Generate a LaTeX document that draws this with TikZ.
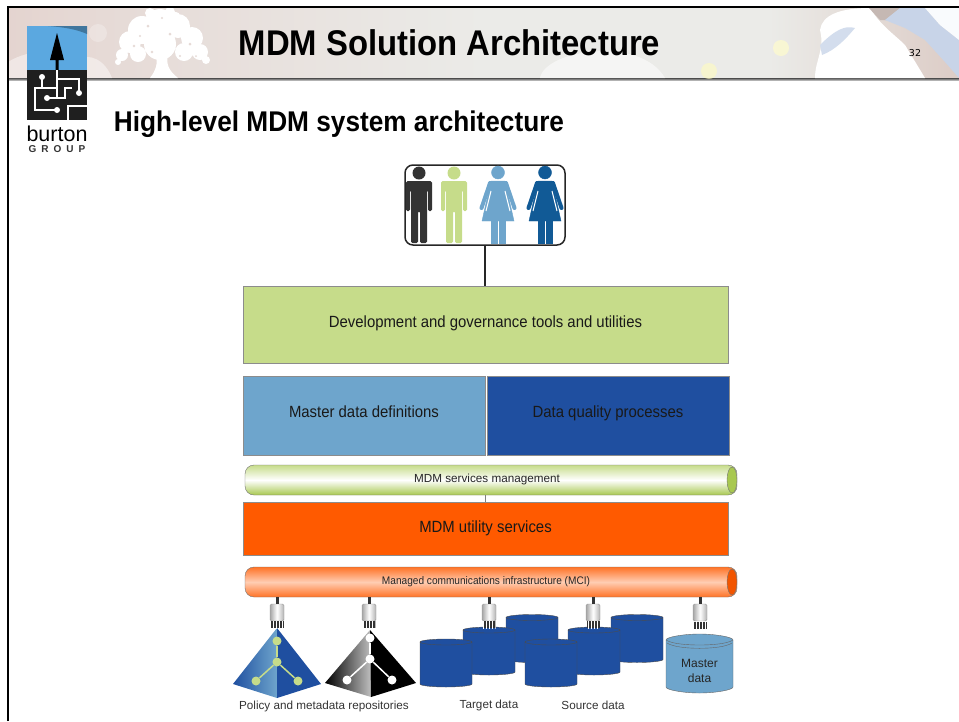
\documentclass[tikz,border=0pt]{standalone}
\usepackage{xcolor}
\usepackage{fontspec}
\setmainfont{Liberation Sans}
\newfontfamily\narrowfont[FakeStretch=0.92]{Liberation Sans}
\newfontfamily\pagefont{DejaVu Sans}
\usetikzlibrary{shapes.geometric,patterns}

\definecolor{toolgreen}{HTML}{C6DC8A}
\definecolor{capgreen}{HTML}{A8C850}
\definecolor{defblue}{HTML}{6EA5CC}
\definecolor{qualblue}{HTML}{1F4FA0}
\definecolor{utilorange}{HTML}{FF5A00}
\definecolor{womanblue}{HTML}{115A96}
\definecolor{logoblue}{HTML}{5BA8E0}
\definecolor{bandA}{HTML}{D8B8B0}
\definecolor{bandB}{HTML}{E0C8C2}
\definecolor{bandC}{HTML}{E6DAD6}
\definecolor{bandD}{HTML}{EBEBE8}
\definecolor{bandE}{HTML}{DCCCC6}
\definecolor{bandF}{HTML}{D6C6C0}
\definecolor{cloudblue}{HTML}{C8D4E8}

\pgfdeclarehorizontalshading{bandshade}{100bp}{
  color(0bp)=(bandA);
  color(15bp)=(bandB);
  color(30bp)=(bandC);
  color(50bp)=(bandD);
  color(65bp)=(bandD);
  color(75bp)=(bandE);
  color(85bp)=(bandF);
  color(100bp)=(bandD)}

\tikzset{
  layerbox/.style={rectangle, draw=black!45, inner sep=0pt, text=black!90, text height=12pt, font=\narrowfont\fontsize{16.2}{18}\selectfont},
  pipe/.style={rectangle, rounded corners=9pt, draw=black!55, minimum width=492pt, minimum height=30pt, inner sep=0pt},
  pipecap/.style={ellipse, draw=black!55, minimum width=10pt, minimum height=26pt, inner sep=0pt},
  plug/.style={rectangle, rounded corners=1.5pt, draw=black!40, left color=black!35, right color=black!30, middle color=white, minimum width=14pt, minimum height=17pt, inner sep=0pt},
  grip/.style={rectangle, preaction={fill=black!80}, pattern=vertical lines, pattern color=white!70, minimum width=13pt, minimum height=7pt, inner sep=0pt},
  stem/.style={line width=3pt, black!80},
  graphdot/.style={circle, inner sep=0pt, minimum size=9pt},
  caption/.style={inner sep=0pt, font=\fontsize{11.7}{14}\selectfont, text=black!80},
  dbdrum/.pic={
    \draw[fill=qualblue, draw=black!70] (-26,-21) -- (-26,21) .. controls (-26,22.6) and (-14.3,24) .. (0,24) .. controls (14.3,24) and (26,22.6) .. (26,21) -- (26,-21) .. controls (26,-22.6) and (14.3,-24) .. (0,-24) .. controls (-14.3,-24) and (-26,-22.6) .. (-26,-21) -- cycle;
    \draw[draw=black!70] (-26,-21) .. controls (-26,-19.4) and (-14.3,-18) .. (0,-18) .. controls (14.3,-18) and (26,-19.4) .. (26,-21);
  },
  man/.pic={
    \fill[pic actions] (0,8) circle (6.5);
    \fill[pic actions, rounded corners=1.5pt] (-13,16) -- (13,16) -- (13,46) -- (9,46) -- (9,25) -- (8,25) -- (8,78) -- (1,78) -- (1,46) -- (-1,46) -- (-1,78) -- (-8,78) -- (-8,25) -- (-9,25) -- (-9,46) -- (-13,46) -- cycle;
  },
  woman/.pic={
    \fill[pic actions] (0,7.5) circle (6.5);
    \fill[pic actions] (-7,16) -- (7,16) -- (16,56) -- (-16,56) -- cycle;
    \fill[pic actions] (-7,78) rectangle (-1,54);
    \fill[pic actions] (1,78) rectangle (7,54);
    \draw[line width=4pt, line cap=round, pic actions] (-8,18) -- (-16.5,43);
    \draw[line width=4pt, line cap=round, pic actions] (8,18) -- (16.5,43);
    \draw[white, line width=1pt] (-7,26) -- (-12,46);
    \draw[white, line width=1pt] (7,26) -- (12,46);
  }
}

\begin{document}
\begin{tikzpicture}[x=1pt, y=-1pt]
                \useasboundingbox (0,0) rectangle (959,721);

                % Header band
                \shade[shading=bandshade] (8,8) rectangle (959,78);
                \shade[top color=black!70, bottom color=black!30] (8,78) rectangle (959,80);
                \fill[white, opacity=.25] (98,33) circle (9);
                \fill[white!80!yellow, opacity=.7] (781,48) circle (8);
                \fill[white!75!yellow, opacity=.6] (709,71) circle (8);
                \fill[white, opacity=.45] (8,78) -- (8,62) .. controls (30,48) and (60,50) .. (75,60) .. controls (90,52) and (105,60) .. (112,78) -- cycle;
                \fill[white, opacity=.55] (540,78) .. controls (545,50) and (640,35) .. (665,78) -- cycle;

                % Clouds on the right
                \fill[white] (815,78) .. controls (815,60) and (825,50) .. (820,30) .. controls (822,15) and (840,8) .. (870,8) .. controls (880,25) and (895,35) .. (905,45) -- (925,78) -- cycle;
                \fill[bandF!80!gray] (869,8) -- (900,8) -- (895,20) -- (880,20) -- cycle;
                \fill[cloudblue] (885,20) -- (900,8) -- (925,8) -- (940,25) -- (959,40) -- (959,78) -- (945,62) -- (925,40) -- (905,28) -- cycle;
                \fill[white!90!cloudblue] (925,8) -- (959,8) -- (959,40) -- (940,25) -- cycle;
                \fill[cloudblue!80!white] (820,45) .. controls (835,30) and (845,25) .. (855,28) .. controls (845,40) and (835,50) .. (822,55) -- cycle;

                % Tree
                \fill[white] (150,78) .. controls (156,70) and (158,64) .. (156,54) -- (168,54) .. controls (166,64) and (168,70) .. (178,78) -- cycle;
                \fill[white] (160,24) circle (15) (142,30) circle (14) (178,26) circle (12) (192,38) circle (11) (130,42) circle (11) (160,44) circle (16) (200,52) circle (8) (184,52) circle (9) (122,55) circle (6) (138,54) circle (8) (170,12) circle (5) (150,13) circle (5) (118,62) circle (3) (206,60) circle (4) (176,16) circle (4);
                \fill[bandC] (148,26) circle (1.5) (170,34) circle (1.5) (134,46) circle (1.3) (190,44) circle (1.5) (180,56) circle (1.2) (152,52) circle (1.4) (162,18) circle (1.2) (196,56) circle (1) (140,36) circle (1.2);

                % Frame
                \draw[black, line width=2pt] (7.5,721) -- (7.5,6.5) -- (959,6.5);

                % Logo
                \fill[logoblue] (27,26) rectangle (87,71);
                \fill[logoblue!70!black] (48,26) .. controls (62,27) and (76,29) .. (87,34) -- (87,26) -- cycle;
                \fill[black!88] (27,70) rectangle (87,120);
                \fill[black] (57,33) -- (64,60) -- (58.5,60) -- (58.5,70) -- (55.5,70) -- (55.5,60) -- (50,60) -- cycle;
                \draw[white, line width=1.8pt] (42,77) -- (42,88) -- (57,88);
                \draw[white, line width=1.8pt] (79,93) -- (79,79) -- (57,79) -- (57,70);
                \draw[white, line width=1.8pt] (57,79) -- (57,98);
                \draw[white, line width=1.8pt] (47,98) -- (65,98) -- (65,88) -- (72,88);
                \draw[white, line width=1.8pt] (57,110) -- (35,110) -- (35,88) -- (42,88);
                \draw[white, line width=1.8pt] (87,106) -- (68,106) -- (68,120);
                \fill[white] (42,77) circle (3) (79,93) circle (3) (47,98) circle (3) (57,110) circle (3);
                \node[inner sep=0pt, font=\fontsize{21.5}{21.5}\selectfont] (logoname) at (57,134) {burton};
                \node[inner sep=0pt, font=\bfseries\fontsize{10}{10}\selectfont, text=black!80] (logogroup) at (57,149.5) {G\,\,\,R\,\,\,O\,\,\,U\,\,\,P};

                % Titles
                \node[inner sep=0pt, font=\narrowfont\bfseries\fontsize{35.7}{36}\selectfont] (title) at (449.5,43) {MDM Solution Architecture};
                \node[inner sep=0pt, font=\pagefont\fontsize{9.5}{10}\selectfont] (pagenum) at (915,53) {32};
                \node[inner sep=0pt, font=\narrowfont\bfseries\fontsize{28.5}{29}\selectfont] (subtitle) at (339,124) {High-level MDM system architecture};

                % People
                \node[rectangle, rounded corners=8pt, draw=black!85, line width=1.5pt, minimum width=160pt, minimum height=80pt, inner sep=0pt] (people) at (485,205) {};
                \pic[fill=black!80] (man1) at (419,165) {man};
                \pic[fill=toolgreen] (man2) at (454,165) {man};
                \pic[fill=defblue, draw=defblue] (woman1) at (498,165) {woman};
                \pic[fill=womanblue, draw=womanblue] (woman2) at (545,165) {woman};

                % Layers
                \node[layerbox, fill=toolgreen, minimum width=485pt, minimum height=77pt, text depth=7pt] (tools) at (485.5,324.5) {Development and governance tools and utilities};
                \node[layerbox, fill=defblue, minimum width=242pt, minimum height=79pt, text depth=8pt] (defs) at (364,415.5) {Master data definitions};
                \node[layerbox, fill=qualblue, minimum width=242pt, minimum height=79pt, text depth=8pt] (quality) at (608,415.5) {Data quality processes};
                \node[pipe, top color=toolgreen, bottom color=capgreen, middle color=white] (svcpipe) at (491,480) {};
                \node[pipecap, fill=capgreen] (svccap) at (732,480) {};
                \node[inner sep=0pt, text height=9pt, text depth=3pt, font=\fontsize{11.7}{14}\selectfont, text=black!85] (svclabel) at (487,479.5) {MDM services management};
                \node[layerbox, fill=utilorange, minimum width=485pt, minimum height=53pt, text depth=4pt] (utility) at (485.5,528.5) {MDM utility services};
                \node[pipe, top color=utilorange!85, bottom color=utilorange!85, middle color=utilorange!30!white] (mcipipe) at (491,582) {};
                \node[pipecap, fill=utilorange!95!black] (mcicap) at (732,582) {};
                \node[inner sep=0pt, text height=9pt, text depth=3pt, font=\narrowfont\fontsize{11}{13}\selectfont, text=black!85] (mcilabel) at (486,581.5) {Managed communications infrastructure (MCI)};

                % Connectors
                \draw[black!85, line width=2pt] (people) -- (people |- tools.north);
                \draw[black!50] (utility.north) -- (utility.north |- svcpipe.south);

                % Plugs
                \node[plug] (plug1) at (277,612.5) {};
                \node[plug] (plug2) at (369,612.5) {};
                \node[plug] (plug3) at (489,612.5) {};
                \node[plug] (plug4) at (593,612.5) {};
                \node[plug] (plug5) at (700,612.5) {};
                \draw[stem] (plug1.north) -- (plug1.north |- mcipipe.south);
                \draw[stem] (plug2.north) -- (plug2.north |- mcipipe.south);
                \draw[stem] (plug3.north) -- (plug3.north |- mcipipe.south);
                \draw[stem] (plug4.north) -- (plug4.north |- mcipipe.south);
                \draw[stem] (plug5.north) -- (plug5.north |- mcipipe.south);

                % Policy pyramid
                \shade[left color=qualblue, right color=defblue] (277,628) -- (233,684) -- (277,698) -- cycle;
                \fill[qualblue] (277,628) -- (321,684) -- (277,698) -- cycle;
                \node[graphdot, fill=toolgreen] (p1) at (277,641) {};
                \node[graphdot, fill=toolgreen] (p2) at (277,662) {};
                \node[graphdot, fill=toolgreen] (p3) at (256,681) {};
                \node[graphdot, fill=toolgreen] (p4) at (298,681) {};
                \draw[toolgreen, line width=1.5pt] (p1) -- (p2);
                \draw[toolgreen, line width=1.5pt] (p2) -- (p3);
                \draw[toolgreen, line width=1.5pt] (p2) -- (p4);

                % Metadata pyramid
                \shade[left color=black, right color=black!25] (370,630) -- (325,683) -- (371,697) -- cycle;
                \fill[black] (370,630) -- (416,683) -- (371,697) -- cycle;
                \node[graphdot, fill=white] (m1) at (370,638) {};
                \node[graphdot, fill=white] (m2) at (370,659) {};
                \node[graphdot, fill=white] (m3) at (347,680) {};
                \node[graphdot, fill=white] (m4) at (392,680) {};
                \draw[white, line width=1.5pt] (m1) -- (m2);
                \draw[white, line width=1.5pt] (m2) -- (m3);
                \draw[white, line width=1.5pt] (m2) -- (m4);

                % Databases
                \pic (src3) at (637,638.5) {dbdrum};
                \pic (tgt3) at (532,638.5) {dbdrum};
                \pic (src2) at (594,651) {dbdrum};
                \pic (tgt2) at (489,651) {dbdrum};
                \pic (tgt1) at (446,663) {dbdrum};
                \pic (src1) at (551,663) {dbdrum};

                % Master drum
                \draw[fill=defblue, draw=black!60] (666,640) -- (666,687) .. controls (666,690) and (684,693) .. (699.5,693) .. controls (715,693) and (733,690) .. (733,687) -- (733,640) .. controls (733,637) and (715,634) .. (699.5,634) .. controls (684,634) and (666,637) .. (666,640) -- cycle;
                \draw[black!60] (666,640) .. controls (672,644) and (688,645) .. (699.5,645) .. controls (711,645) and (727,644) .. (733,640);
                \draw[black!60] (667,643) .. controls (673,647) and (688,648.3) .. (699.5,648.3) .. controls (711,648.3) and (726,647) .. (732,643);
                \node[inner sep=0pt, align=center, font=\fontsize{12}{15.5}\selectfont, text=black!85] (masterlabel) at (699.5,671) {Master\\data};

                % Grips
                \node[grip] (grip1) at (277,624.5) {};
                \node[grip] (grip2) at (369,624.5) {};
                \node[grip] (grip3) at (489,624.5) {};
                \node[grip] (grip4) at (593,624.5) {};
                \node[grip] (grip5) at (700,625) {};

                % Captions
                \node[caption] (repolabel) at (324,706) {Policy and metadata repositories};
                \node[caption] (tgtlabel) at (489,705) {Target data};
                \node[caption] (srclabel) at (593,705) {Source data};
            \end{tikzpicture}
\end{document}
